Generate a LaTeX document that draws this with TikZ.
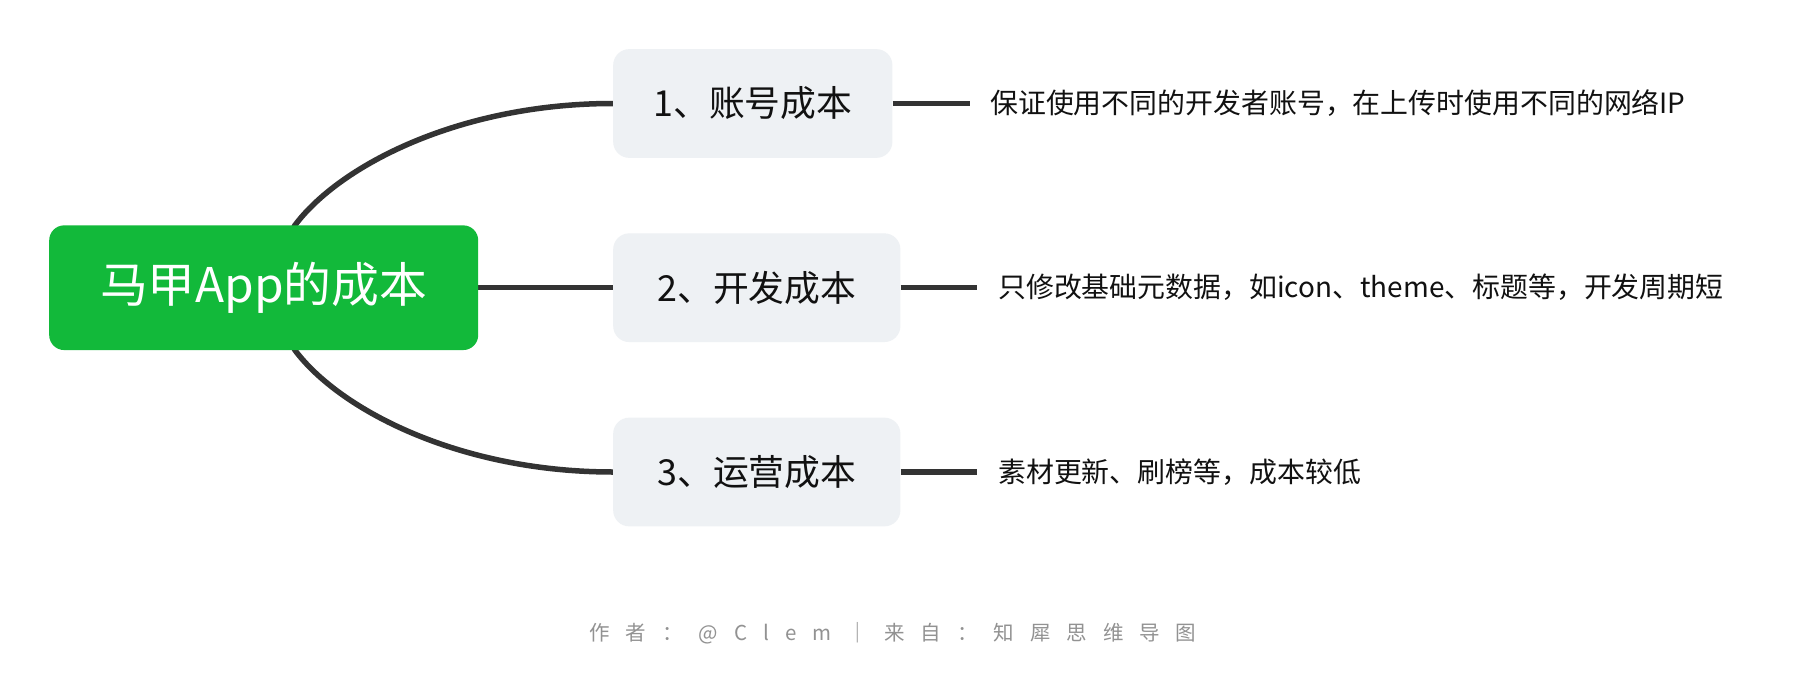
\documentclass[tikz,border=0pt]{standalone}
\usepackage{fontspec}
\setmainfont{Noto Sans CJK SC}
\usetikzlibrary{backgrounds,calc}
\definecolor{rootgreen}{HTML}{12B93A}
\definecolor{subgray}{HTML}{EEF1F4}
\definecolor{linegray}{HTML}{333333}
\definecolor{textdark}{HTML}{111111}
\definecolor{footgray}{HTML}{929292}
\tikzset{
  rootbox/.style={fill=rootgreen, rounded corners=15pt, inner sep=0pt,
    minimum width=429pt, minimum height=124.7pt, text=white,
    font=\fontsize{47.8pt}{54pt}\selectfont},
  subbox/.style={fill=subgray, rounded corners=16pt, inner sep=0pt,
    minimum height=108.7pt, text=textdark,
    font=\fontsize{35.8pt}{42pt}\selectfont},
  leaf/.style={anchor=west, inner sep=0pt, text=textdark,
    font=\fontsize{27.9pt}{33pt}\selectfont},
  conn/.style={draw=linegray, line width=5.5pt},
  foot/.style={inner sep=0pt, text=footgray,
    font=\fontsize{20.5pt}{24pt}\selectfont\addfontfeature{LetterSpace=78}}
}
\begin{document}
\begin{tikzpicture}[x=1pt,y=-1pt]
\useasboundingbox (0,0) rectangle (1794,696);

\node[rootbox] (root) at (263.7,287.7) {马甲App的成本};
\node[subbox, minimum width=279.2pt] (n1) at (752.8,103.5) {1、账号成本};
\node[subbox, minimum width=287.2pt] (n2) at (756.8,287.7) {2、开发成本};
\node[subbox, minimum width=287.2pt] (n3) at (756.8,472) {3、运营成本};

\node[leaf] (l1) at (990,103.5) {保证使用不同的开发者账号，在上传时使用不同的网络IP};
\node[leaf] (l2) at (998,287.7) {只修改基础元数据，如icon、theme、标题等，开发周期短};
\node[leaf] (l3) at (998,472) {素材更新、刷榜等，成本较低};

\node[foot] (footer) at (893,633) {作者：@Clem｜来自：知犀思维导图};

\begin{pgfonlayer}{background}
  \fill[white] (0,0) rectangle (1794,696);
  \draw[conn] ($(root.north west)+(235,20)$) -- ($(root.north west)+(246,0)$)
     .. controls ($(root.north west)+(291,-60)$) and ($(n1.west)+(-153,0)$) .. (n1.west);
  \draw[conn] ($(root.south west)+(235,-20)$) -- ($(root.south west)+(246,0)$)
     .. controls ($(root.south west)+(291,60)$) and ($(n3.west)+(-153,0)$) .. (n3.west);
  \draw[conn] (root.east) -- (n2.west);
  \draw[conn] (n1.east) -- ([xshift=-20pt]l1.west);
  \draw[conn] (n2.east) -- ([xshift=-21pt]l2.west);
  \draw[conn] (n3.east) -- ([xshift=-21pt]l3.west);
\end{pgfonlayer}
\end{tikzpicture}
\end{document}
